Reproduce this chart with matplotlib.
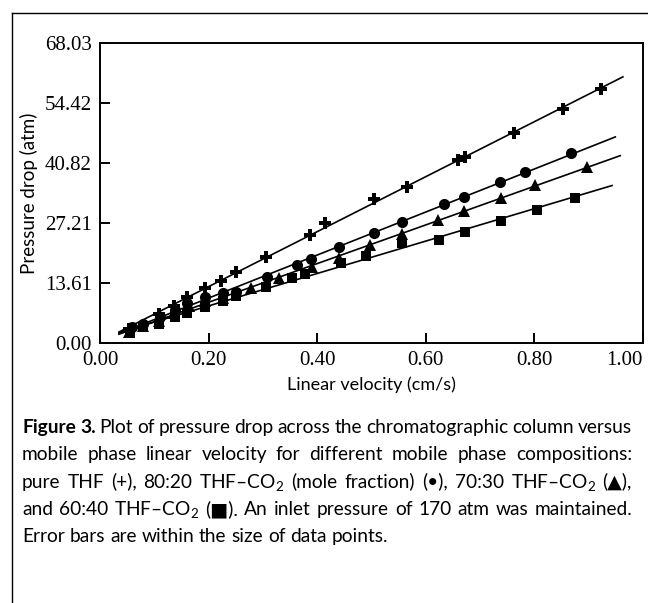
import matplotlib
matplotlib.use("Agg")
import matplotlib.pyplot as plt
from matplotlib.lines import Line2D
import numpy as np

# ----- data -----
x_thf = [0.053, 0.108, 0.136, 0.161, 0.193, 0.222, 0.251, 0.305, 0.387, 0.415,
         0.505, 0.565, 0.659, 0.672, 0.763, 0.853, 0.923]
y_thf = [3.17, 6.58, 8.39, 10.43, 12.47, 14.06, 16.10, 19.50, 24.49, 27.21,
         32.65, 35.38, 41.50, 42.18, 47.62, 53.06, 57.60]

x_80 = [0.059, 0.079, 0.110, 0.138, 0.161, 0.194, 0.226, 0.251, 0.308, 0.363,
        0.389, 0.440, 0.505, 0.556, 0.633, 0.670, 0.736, 0.783, 0.868]
y_80 = [3.63, 4.31, 5.90, 7.48, 9.07, 10.43, 11.30, 11.57, 14.97, 17.69,
        19.05, 21.77, 24.95, 27.44, 31.52, 33.11, 36.51, 38.78, 43.09]

x_70 = [0.053, 0.079, 0.108, 0.136, 0.163, 0.194, 0.226, 0.279, 0.330, 0.391,
        0.440, 0.497, 0.556, 0.622, 0.670, 0.738, 0.802, 0.897]
y_70 = [2.49, 3.86, 4.99, 6.80, 8.40, 9.52, 10.20, 12.47, 14.74, 17.24,
        19.28, 22.20, 24.70, 27.90, 29.90, 32.90, 35.80, 39.90]

x_60 = [0.055, 0.079, 0.108, 0.139, 0.160, 0.194, 0.226, 0.251, 0.305, 0.354,
        0.378, 0.444, 0.490, 0.556, 0.624, 0.673, 0.739, 0.804, 0.875]
y_60 = [2.27, 3.63, 4.31, 5.90, 6.80, 8.16, 9.52, 10.66, 12.70, 14.74,
        15.65, 18.14, 19.73, 22.68, 23.36, 25.17, 27.67, 30.16, 32.88]

# (x, y, marker, size, end of fitted line)
series = [(x_thf, y_thf, "P", 8.5, 0.963),
          (x_80, y_80, "o", 8, 0.949),
          (x_70, y_70, "^", 8, 0.958),
          (x_60, y_60, "s", 7, 0.943)]

y_ticks = [0.0, 13.61, 27.21, 40.82, 54.42, 68.03]
x_ticks = [0.0, 0.2, 0.4, 0.6, 0.8, 1.0]

caption = [
    [("Figure 3.", "bold"), ("Plot of pressure drop across the chromatographic column versus", "normal")],
    [("mobile phase linear velocity for different mobile phase compositions:", "normal")],
    [("pure THF (+), 80:20 THF\u2013CO$_2$ (mole fraction) (\u2022), 70:30 THF\u2013CO$_2$ (\u25B2),", "normal")],
    [("and 60:40 THF\u2013CO$_2$ (\u25A0). An inlet pressure of 170 atm was maintained.", "normal")],
    [("Error bars are within the size of data points.", "normal")],
]

plt.rcParams["mathtext.fontset"] = "custom"
plt.rcParams["mathtext.rm"] = "Lato"
plt.rcParams["mathtext.it"] = "Lato:italic"
plt.rcParams["mathtext.bf"] = "Lato:bold"

W, H = 648, 603
fig = plt.figure(figsize=(W / 100, H / 100), dpi=100)
ax = fig.add_axes([100 / W, 1 - 343 / H, 543 / W, 300 / H])

x0 = 0.035
for xs, ys, mk, ms, xend in series:
    k, b = np.polyfit(xs, ys, 1)
    xl = np.array([x0, xend])
    ax.plot(xl, k * xl + b, color="black", lw=1.2, zorder=2)
    ax.plot(xs, ys, linestyle="none", marker=mk, ms=ms, color="black",
            markeredgewidth=0, zorder=3)

ax.set_xlim(0, 1.0)
ax.set_ylim(0, 68.03)
ax.set_xticks(x_ticks)
ax.set_xticklabels([f"{v:.2f}" for v in x_ticks])
ax.set_yticks(y_ticks)
ax.set_yticklabels([f"{v:.2f}" for v in y_ticks])
ax.tick_params(direction="in", length=7, width=1.4, labelsize=15, pad=6)
for lab in ax.get_xticklabels() + ax.get_yticklabels():
    lab.set_family("Liberation Serif")
ax.get_xticklabels()[-1].set_ha("right")
for sp in ax.spines.values():
    sp.set_linewidth(1.4)

ax.set_xlabel("Linear velocity (cm/s)", family="Lato", fontsize=13)
ax.set_ylabel("Pressure drop (atm)", family="Lato", fontsize=13.5)
ax.xaxis.set_label_coords(0.5, -0.11)
ax.yaxis.set_label_coords(-0.115, 0.5)

# outer frame around figure and caption
fig.add_artist(Line2D([12 / W, 12 / W], [0, 1 - 13 / H], color="black", lw=1.0,
                      transform=fig.transFigure))
fig.add_artist(Line2D([12 / W, 1], [1 - 13 / H, 1 - 13 / H], color="black", lw=1.0,
                      transform=fig.transFigure))

# justified caption
renderer = fig.canvas.get_renderer()
left, right = 22, 632
base0, step = 433, 27.3
fam = ["Lato", "DejaVu Sans"]
fs = 13.8
probe2 = fig.text(0, 0, "a a", family=fam, fontsize=fs)
probe1 = fig.text(0, 0, "aa", family=fam, fontsize=fs)
space = probe2.get_window_extent(renderer).width - probe1.get_window_extent(renderer).width
probe1.remove()
probe2.remove()
for i, line in enumerate(caption):
    words = []
    for txt, wt in line:
        for w in txt.split(" "):
            words.append((w, wt))
    yb = 1 - (base0 + i * step) / H
    arts = [fig.text(0, yb, w, family=fam, fontsize=fs, weight=wt,
                     va="baseline", ha="left") for w, wt in words]
    widths = [a.get_window_extent(renderer).width for a in arts]
    if i == len(caption) - 1:
        gap = space
    else:
        gap = (right - left - sum(widths)) / (len(words) - 1)
    x = left
    for a, w in zip(arts, widths):
        a.set_x(x / W)
        x += w + gap

fig.savefig("out.png", dpi=100)
